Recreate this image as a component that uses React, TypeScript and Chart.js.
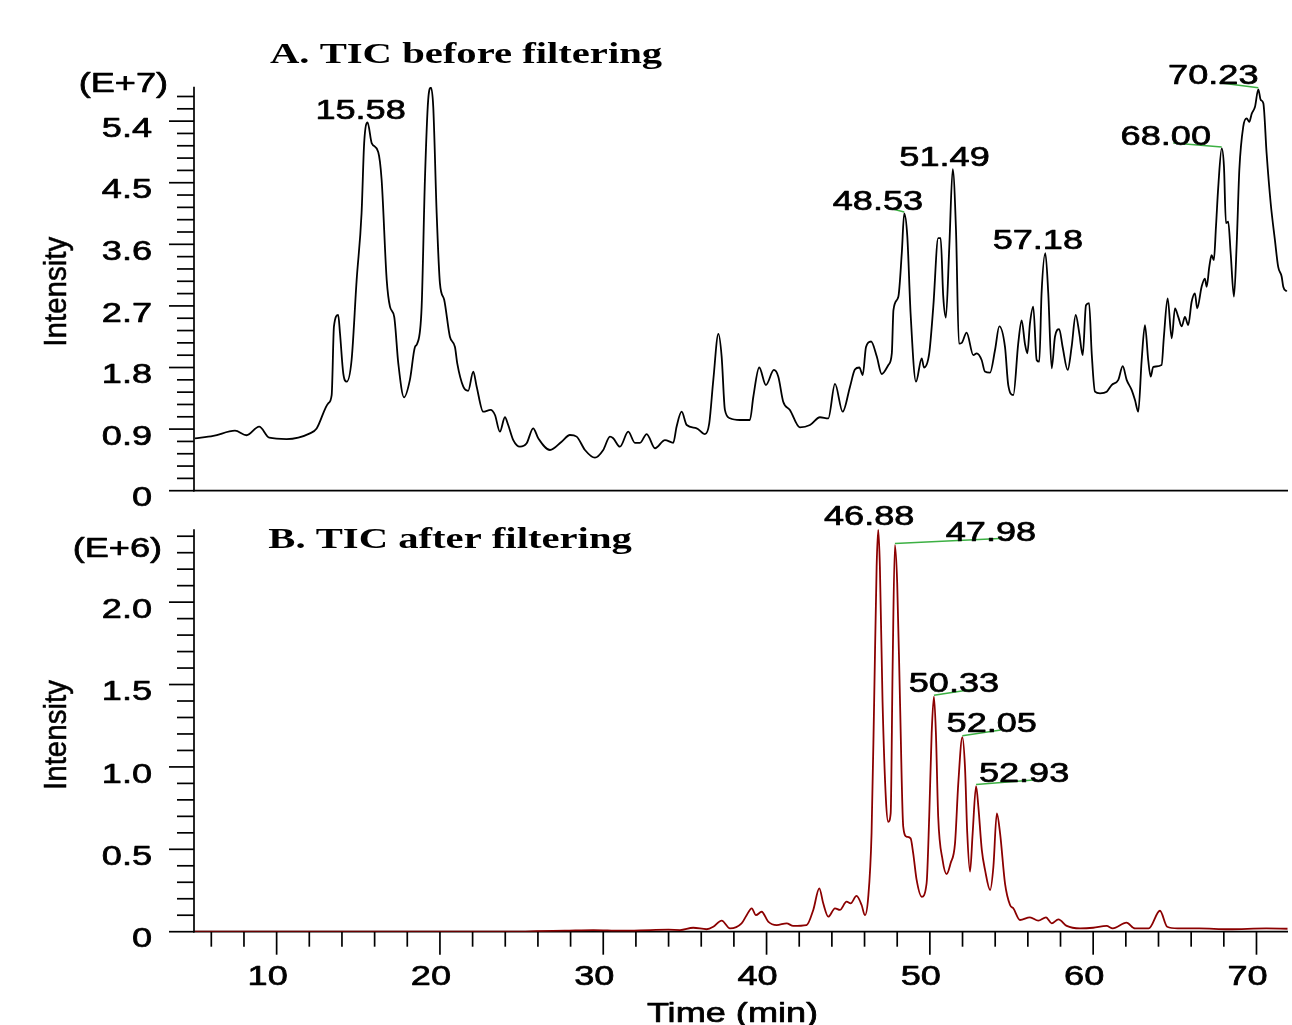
import React, { useEffect, useRef } from "react";
import { Chart, registerables } from "chart.js";

Chart.register(...registerables);

// ---------------- DATA ----------------
// Panel A: TIC before filtering (time in min, intensity in E+7)
const timeA = [
  5.0, 6.12, 7.45, 8.16, 8.93, 9.55, 10.61, 12.04, 12.45, 13.16, 13.37, 13.51, 13.77, 13.88, 14.08, 14.29, 14.59,
  14.9, 15.2, 15.36, 15.57, 15.82, 16.22, 16.43, 16.74, 16.94, 17.2, 17.45, 17.8, 18.16, 18.47, 18.61, 18.88,
  19.08, 19.28, 19.45, 19.59, 19.8, 20.0, 20.26, 20.61, 20.92, 21.06, 21.43, 21.73, 22.04, 22.25, 22.65, 23.1,
  23.37, 23.67, 23.98, 24.18, 24.49, 24.9, 25.31, 25.71, 26.02, 26.74, 27.45, 27.96, 28.37, 28.88, 29.49, 30.0,
  30.41, 30.61, 31.02, 31.53, 31.94, 32.25, 32.66, 33.17, 33.78, 34.29, 34.49, 34.8, 35.11, 35.72, 36.23, 36.49,
  36.74, 37.05, 37.25, 37.45, 37.76, 38.37, 38.98, 39.19, 39.55, 39.96, 40.45, 40.72, 41.02, 41.43, 42.04, 42.66,
  43.27, 43.78, 44.19, 44.66, 45.11, 45.41, 45.68, 45.89, 46.09, 46.4, 46.75, 47.05, 47.46, 47.67, 47.77, 48.07,
  48.28, 48.43, 48.62, 48.82, 49.15, 49.5, 49.64, 49.96, 50.21, 50.51, 50.66, 50.82, 50.98, 51.19, 51.4, 51.6,
  51.78, 51.95, 52.25, 52.66, 52.87, 53.17, 53.37, 53.68, 53.99, 54.25, 54.6, 54.8, 55.11, 55.41, 55.62, 55.82,
  55.97, 56.13, 56.33, 56.54, 56.7, 56.84, 57.07, 57.25, 57.46, 57.66, 57.92, 58.13, 58.44, 58.68, 58.93, 59.15,
  59.36, 59.56, 59.75, 59.91, 60.11, 60.42, 60.83, 61.13, 61.54, 61.81, 62.05, 62.36, 62.56, 62.76, 62.97, 63.17,
  63.37, 63.52, 63.68, 64.19, 64.33, 64.56, 64.81, 65.01, 65.21, 65.42, 65.62, 65.82, 66.03, 66.23, 66.37, 66.64,
  66.84, 66.95, 67.11, 67.25, 67.39, 67.52, 67.66, 67.87, 68.01, 68.13, 68.27, 68.42, 68.62, 68.79, 68.95, 69.19,
  69.4, 69.56, 69.71, 69.91, 70.11, 70.26, 70.42, 70.62, 70.87, 71.13, 71.33, 71.54, 71.64, 71.85,
];
const intensityA = [
  0.766, 0.8, 0.877, 0.81, 0.935, 0.775, 0.755, 0.838, 0.91, 1.277, 1.398, 2.4, 2.567, 2.3, 1.715, 1.593, 1.91,
  3.08, 4.05, 5.08, 5.38, 5.08, 4.95, 4.54, 3.08, 2.69, 2.54, 1.86, 1.365, 1.62, 2.1, 2.15, 2.69,
  4.54, 5.71, 5.89, 5.61, 4.05, 3.03, 2.79, 2.25, 2.1, 1.86, 1.52, 1.46, 1.74, 1.52, 1.154, 1.18,
  1.106, 0.862, 1.073, 0.96, 0.74, 0.643, 0.693, 0.912, 0.766, 0.595, 0.716, 0.814, 0.79, 0.595, 0.482, 0.595,
  0.79, 0.766, 0.643, 0.862, 0.7, 0.7, 0.828, 0.62, 0.74, 0.7, 0.935, 1.154, 0.96, 0.912, 0.828, 0.985,
  1.62, 2.29, 1.96, 1.18, 1.058, 1.033, 1.033, 1.373, 1.8, 1.544, 1.764, 1.666, 1.3, 1.18, 0.926, 0.96,
  1.073, 1.058, 1.56, 1.154, 1.52, 1.77, 1.8, 1.69, 2.1, 2.18, 1.96, 1.705, 1.837, 2.007, 2.64, 2.835,
  3.47, 4.05, 3.71, 2.59, 1.593, 1.934, 1.8, 2.007, 2.69, 3.69, 3.69, 2.835, 2.53, 3.565, 4.7, 3.81,
  2.15, 2.16, 2.31, 1.98, 2.007, 1.91, 1.74, 1.724, 2.056, 2.4, 2.1, 1.544, 1.398, 2.15, 2.49, 2.15,
  2.007, 2.445, 2.69, 1.91, 1.885, 2.884, 3.47, 2.884, 1.788, 2.25, 2.36, 2.1, 1.764, 2.1, 2.567, 2.3,
  1.98, 2.71, 2.74, 2.007, 1.447, 1.423, 1.447, 1.544, 1.62, 1.82, 1.62, 1.47, 1.325, 1.154, 1.91, 2.42,
  1.91, 1.666, 1.81, 1.837, 2.25, 2.81, 2.227, 2.665, 2.54, 2.4, 2.54, 2.42, 2.76, 2.884, 2.665, 2.98,
  3.1, 2.98, 3.27, 3.44, 3.37, 3.86, 4.44, 5.0, 4.73, 3.91, 3.93, 3.47, 2.835, 3.615, 4.69, 5.32,
  5.44, 5.39, 5.51, 5.61, 5.865, 5.71, 5.66, 4.93, 4.2, 3.66, 3.27, 3.13, 2.98, 2.91,
];

// Panel B: TIC after filtering (time in min, intensity in E+6)
const timeB = [
  5, 10, 15, 20, 25, 25.9, 27.65, 29.4, 31.1, 32.9, 34.0, 34.7, 35.51, 36.33, 36.74, 37.25, 37.76, 38.47, 38.78,
  39.09, 39.35, 39.7, 40.1, 40.62, 41.23, 41.63, 42.45, 42.86, 43.23, 43.47, 43.78, 44.19, 44.49, 44.9, 45.15,
  45.51, 45.82, 46.02, 46.22, 46.43, 46.59, 46.74, 46.84, 46.94, 47.1, 47.31, 47.45, 47.6, 47.72, 47.86, 48.0,
  48.17, 48.37, 48.58, 48.82, 48.98, 49.19, 49.5, 49.8, 49.96, 50.11, 50.25, 50.37, 50.51, 50.78, 51.03, 51.27,
  51.54, 51.74, 51.99, 52.15, 52.29, 52.46, 52.62, 52.83, 52.97, 53.18, 53.38, 53.69, 53.89, 54.1, 54.3, 54.6,
  54.91, 55.11, 55.52, 56.13, 56.64, 57.11, 57.46, 57.87, 58.38, 59.2, 60.0, 60.82, 61.2, 62.04, 62.56, 63.4,
  64.09, 64.53, 65.18, 66.49, 68.3, 70.6, 71.9,
];
const intensityB = [
  0, 0, 0, 0, 0, 0.003, 0.006, 0.01, 0.006, 0.01, 0.012, 0.01, 0.024, 0.015, 0.03, 0.067, 0.02, 0.05, 0.1,
  0.142, 0.1, 0.121, 0.061, 0.04, 0.051, 0.035, 0.04, 0.132, 0.263, 0.172, 0.091, 0.142, 0.132, 0.182, 0.172,
  0.217, 0.162, 0.1, 0.203, 0.597, 1.406, 2.215, 2.44, 2.215, 1.406, 0.8, 0.667, 0.718, 1.608, 2.346, 2.114,
  1.406, 0.637, 0.576, 0.566, 0.476, 0.314, 0.212, 0.294, 0.698, 1.204, 1.426, 1.204, 0.698, 0.435, 0.35, 0.415,
  0.536, 0.9, 1.18, 1.0, 0.597, 0.364, 0.597, 0.884, 0.758, 0.496, 0.374, 0.253, 0.394, 0.718, 0.597, 0.294,
  0.162, 0.142, 0.071, 0.087, 0.067, 0.087, 0.051, 0.075, 0.035, 0.02, 0.024, 0.035, 0.02, 0.055, 0.02, 0.02,
  0.127, 0.03, 0.02, 0.02, 0.015, 0.02, 0.018,
];

// Peak annotations (label text, peak time, peak intensity)
const peakLabelsA = ["15.58", "48.53", "51.49", "57.18", "68.00", "70.23"];
const peakTimesA = [15.57, 48.43, 51.4, 57.07, 67.87, 70.11];
const peakValuesA = [5.38, 4.05, 4.7, 3.47, 5.0, 5.865];

const peakLabelsB = ["46.88", "47.98", "50.33", "52.05", "52.93"];
const peakTimesB = [46.84, 47.86, 50.25, 51.99, 52.83];
const peakValuesB = [2.44, 2.346, 1.426, 1.18, 0.884];

// Axis ticks
const yMajorA = [0, 0.9, 1.8, 2.7, 3.6, 4.5, 5.4];
const yMajorLabelsA = ["0", "0.9", "1.8", "2.7", "3.6", "4.5", "5.4"];
const yMinorStepA = 0.18;
const yMaxA = 5.903;

const yMajorB = [0, 0.5, 1.0, 1.5, 2.0];
const yMajorLabelsB = ["0", "0.5", "1.0", "1.5", "2.0"];
const yMinorStepB = 0.1;
const yMaxB = 2.442;

const xMajor = [10, 20, 30, 40, 50, 60, 70];
const xMajorLabels = ["10", "20", "30", "40", "50", "60", "70"];
const xMinorStep = 2;
const xMin = 4.94;
const xMax = 71.93;

// ---------------- STYLE ----------------
const S = 1.29; // horizontal text stretch of the reference
const SANS = '"Liberation Sans", Arial, sans-serif';
const SERIF = '"Liberation Serif", "Times New Roman", serif';
const GREEN = "#3cb043";

// label placement (pixel offsets from peak point) [textDx, textDy, leaderDx, leaderDy] (leader null if none)
const labelOffsetsA: Array<[number, number, number | null, number | null]> = [
  [-7, -3.4, null, null],
  [-26.3, -4, -19.3, -6.6],
  [-8.2, -3.3, null, null],
  [-7.5, -4.3, null, null],
  [-55.9, -3.3, -48.4, -5.6],
  [-45, -5.3, -39, -6.6],
];
const labelOffsetsB: Array<[number, number, number | null, number | null]> = [
  [-9.1, -4.3, null, null],
  [96, -4.3, 105, -6.7],
  [20, -5, 39.3, -7.4],
  [29.4, -5.6, 38.4, -7.3],
  [48, -4.3, 57.3, -6],
];

function sText(
  ctx: CanvasRenderingContext2D,
  text: string,
  x: number,
  y: number,
  font: string,
  align: CanvasTextAlign,
  stretch: number,
  embolden = 0.7
) {
  ctx.save();
  ctx.font = font;
  ctx.fillStyle = "#000";
  ctx.strokeStyle = "#000";
  ctx.lineWidth = embolden;
  ctx.lineJoin = "round";
  ctx.textBaseline = "alphabetic";
  ctx.textAlign = align;
  ctx.translate(x, y);
  ctx.scale(stretch, 1);
  ctx.fillText(text, 0, 0);
  if (embolden > 0) ctx.strokeText(text, 0, 0);
  ctx.restore();
}

function line(ctx: CanvasRenderingContext2D, x1: number, y1: number, x2: number, y2: number) {
  ctx.beginPath();
  ctx.moveTo(x1, y1);
  ctx.lineTo(x2, y2);
  ctx.stroke();
}

type Panel = {
  id: string;
  times: number[];
  values: number[];
  color: string;
  yMax: number;
  yMajor: number[];
  yMajorLabels: string[];
  yMinorStep: number;
  padding: { left: number; top: number; right: number; bottom: number };
  title: string;
  titleX: number;
  titleY: number;
  expo: string;
  expoX: number;
  expoY: number;
  intensityY: number;
  peakLabels: string[];
  peakTimes: number[];
  peakValues: number[];
  offsets: Array<[number, number, number | null, number | null]>;
  xTicks: boolean;
};

function makePlugin(p: Panel) {
  return {
    id: "panel" + p.id,
    beforeDatasetsDraw(chart: any) {
      const ctx: CanvasRenderingContext2D = chart.ctx;
      const xs = chart.scales.x;
      const ys = chart.scales.y;
      const { left, right, top, bottom } = chart.chartArea;
      ctx.save();
      ctx.strokeStyle = "#000";
      ctx.lineWidth = 1.7;
      ctx.lineCap = "butt";
      line(ctx, left, top, left, bottom + 0.8);
      line(ctx, left - 0.8, bottom, right, bottom);
      // y ticks
      const nMinor = Math.floor(p.yMax / p.yMinorStep + 1e-6);
      for (let k = 0; k <= nMinor; k++) {
        const v = k * p.yMinorStep;
        const isMajor = p.yMajor.some((m) => Math.abs(m - v) < 1e-6);
        const y = ys.getPixelForValue(v);
        line(ctx, left - (isMajor ? 25 : 17), y, left, y);
      }
      if (p.xTicks) {
        for (let t = Math.ceil(xMin / xMinorStep) * xMinorStep; t <= xMax; t += xMinorStep) {
          const isMajor = xMajor.includes(t);
          const x = xs.getPixelForValue(t);
          line(ctx, x, bottom, x, bottom + (isMajor ? 23 : 15));
        }
      }
      ctx.restore();
    },
    afterDraw(chart: any) {
      const ctx: CanvasRenderingContext2D = chart.ctx;
      const xs = chart.scales.x;
      const ys = chart.scales.y;
      const font28 = `28px ${SANS}`;
      // y tick labels
      p.yMajor.forEach((v, i) => {
        const y = ys.getPixelForValue(v);
        sText(ctx, p.yMajorLabels[i], 152, y + 15.7, font28, "right", S);
      });
      // exponent
      sText(ctx, p.expo, p.expoX, p.expoY, font28, "right", S);
      // y axis title
      ctx.save();
      ctx.font = `29.5px ${SANS}`;
      ctx.fillStyle = "#000";
      ctx.strokeStyle = "#000";
      ctx.lineWidth = 0.5;
      ctx.textAlign = "center";
      ctx.textBaseline = "alphabetic";
      ctx.translate(65.5, p.intensityY);
      ctx.scale(1.04, 1);
      ctx.rotate(-Math.PI / 2);
      ctx.fillText("Intensity", 0, 0);
      ctx.strokeText("Intensity", 0, 0);
      ctx.restore();
      // title
      sText(ctx, p.title, p.titleX, p.titleY, `bold 30px ${SERIF}`, "left", 1.355, 0);
      // x tick labels
      if (p.xTicks) {
        xMajor.forEach((t, i) => {
          const x = xs.getPixelForValue(t);
          sText(ctx, xMajorLabels[i], x - 9, 985, font28, "center", S);
        });
        sText(ctx, "Time (min)", 732.5, 1021.7, font28, "center", S);
      }
      // peak annotations
      p.peakLabels.forEach((lab, i) => {
        const px = xs.getPixelForValue(p.peakTimes[i]);
        const py = ys.getPixelForValue(p.peakValues[i]);
        const [dx, dy, lx, ly] = p.offsets[i];
        if (lx !== null && ly !== null) {
          ctx.save();
          ctx.strokeStyle = GREEN;
          ctx.lineWidth = 1.5;
          line(ctx, px, py - 1.5, px + lx, py + ly);
          ctx.restore();
        }
        sText(ctx, lab, px + dx, py + dy, font28, "center", S);
      });
    },
  };
}

const panels: Panel[] = [
  {
    id: "A",
    times: timeA,
    values: intensityA,
    color: "#000000",
    yMax: yMaxA,
    yMajor: yMajorA,
    yMajorLabels: yMajorLabelsA,
    yMinorStep: yMinorStepA,
    padding: { left: 194, top: 86.7, right: 4, bottom: 1025 - 490.7 },
    title: "A. TIC before filtering",
    titleX: 270,
    titleY: 63.3,
    expo: "(E+7)",
    expoX: 168,
    expoY: 92.3,
    intensityY: 291.7,
    peakLabels: peakLabelsA,
    peakTimes: peakTimesA,
    peakValues: peakValuesA,
    offsets: labelOffsetsA,
    xTicks: false,
  },
  {
    id: "B",
    times: timeB,
    values: intensityB,
    color: "#8b0000",
    yMax: yMaxB,
    yMajor: yMajorB,
    yMajorLabels: yMajorLabelsB,
    yMinorStep: yMinorStepB,
    padding: { left: 194, top: 529.3, right: 4, bottom: 1025 - 931.7 },
    title: "B. TIC after filtering",
    titleX: 268.3,
    titleY: 548.3,
    expo: "(E+6)",
    expoX: 162,
    expoY: 557.3,
    intensityY: 735,
    peakLabels: peakLabelsB,
    peakTimes: peakTimesB,
    peakValues: peakValuesB,
    offsets: labelOffsetsB,
    xTicks: true,
  },
];

function PanelChart({ p }: { p: Panel }) {
  const ref = useRef<HTMLCanvasElement | null>(null);
  useEffect(() => {
    if (!ref.current) return;
    const chart = new Chart(ref.current, {
      type: "line",
      data: {
        datasets: [
          {
            data: p.times.map((t, i) => ({ x: t, y: p.values[i] })),
            borderColor: p.color,
            borderWidth: 1.8,
            pointRadius: 0,
            fill: false,
            cubicInterpolationMode: "monotone",
          },
        ],
      },
      options: {
        animation: false,
        responsive: true,
        maintainAspectRatio: false,
        events: [],
        layout: { padding: p.padding },
        scales: {
          x: { type: "linear", min: xMin, max: xMax, display: false },
          y: { type: "linear", min: 0, max: p.yMax, display: false },
        },
        plugins: { legend: { display: false }, tooltip: { enabled: false } },
      },
      plugins: [makePlugin(p)],
    } as any);
    return () => chart.destroy();
  }, [p]);
  return (
    <div style={{ position: "absolute", left: 0, top: 0, width: 1292, height: 1025 }}>
      <canvas ref={ref} />
    </div>
  );
}

export default function App() {
  return (
    <div style={{ position: "absolute", left: 0, top: 0, width: 1292, height: 1025, background: "#fff", overflow: "hidden" }}>
      {panels.map((p) => (
        <PanelChart key={p.id} p={p} />
      ))}
    </div>
  );
}
